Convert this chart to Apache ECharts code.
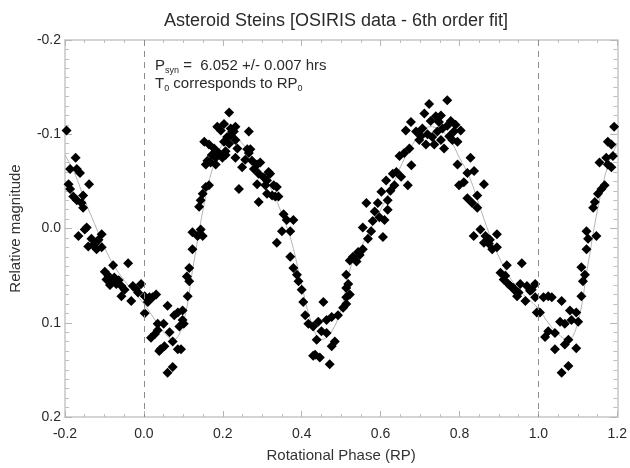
<!DOCTYPE html>
<html>
<head>
<meta charset="utf-8">
<script src="https://cdn.jsdelivr.net/npm/echarts@6/dist/echarts.min.js"></script>
<style>
  html, body { margin: 0; padding: 0; background: #fff; }
  #chart { width: 630px; height: 468px; }
</style>
</head>
<body>
<div id="chart"></div>
<script>
const obsWingLeft = [
  [-0.196, -0.104], [-0.173, -0.075], [-0.187, -0.063], [-0.170, -0.063], [-0.162, -0.059],
  [-0.139, -0.047], [-0.191, -0.047], [-0.187, -0.042], [-0.154, -0.035], [-0.179, -0.034],
  [-0.170, -0.030], [-0.158, -0.027], [-0.154, -0.022], [-0.150, 0.001], [-0.145, -0.001],
  [-0.166, 0.008], [-0.133, 0.011], [-0.141, 0.019], [-0.124, 0.016], [-0.107, 0.006],
  [-0.107, 0.020], [-0.120, 0.022], [-0.128, 0.018], [-0.115, 0.012],
  [-0.078, 0.039], [-0.040, 0.037], [-0.099, 0.046], [-0.095, 0.054], [-0.082, 0.056],
  [-0.070, 0.059], [-0.057, 0.061], [-0.049, 0.065], [-0.057, 0.072], [-0.090, 0.050],
  [-0.075, 0.052], [-0.086, 0.060], [-0.064, 0.055],
  [-0.032, 0.077], [-0.028, 0.061], [-0.007, 0.059], [-0.015, 0.068], [-0.020, 0.064],
  [0.002, 0.072], [0.014, 0.073], [0.031, 0.070], [0.010, 0.078], [0.022, 0.073], [0.002, 0.090]
];
const obsFirstDip = [
  [0.018, 0.116], [0.035, 0.108], [0.039, 0.130], [0.035, 0.101], [0.050, 0.101],
  [0.042, 0.128], [0.052, 0.125], [0.060, 0.082], [0.073, 0.120], [0.086, 0.128],
  [0.094, 0.128], [0.073, 0.147], [0.060, 0.153], [0.077, 0.092], [0.086, 0.089],
  [0.098, 0.087], [0.098, 0.097], [0.101, 0.101], [0.090, 0.104], [0.028, 0.112], [0.065, 0.110],
  [0.111, 0.072], [0.115, 0.056], [0.109, 0.051], [0.115, 0.042], [0.123, 0.022],
  [0.123, 0.004], [0.136, 0.008], [0.149, 0.008], [0.144, 0.001], [0.140, -0.023],
  [0.144, -0.030], [0.149, -0.037], [0.157, -0.044], [0.165, -0.046], [0.157, -0.068],
  [0.169, -0.070], [0.182, -0.068], [0.153, -0.092], [0.165, -0.089], [0.178, -0.085],
  [0.190, -0.080], [0.182, -0.075], [0.199, -0.075], [0.186, -0.108], [0.195, -0.104],
  [0.172, -0.078], [0.161, -0.072]
];
const obsFirstPeak = [
  [0.203, -0.111], [0.224, -0.103], [0.232, -0.108], [0.203, -0.092], [0.207, -0.078],
  [0.216, -0.123], [0.220, -0.106], [0.220, -0.099], [0.228, -0.103], [0.211, -0.097],
  [0.232, -0.094], [0.216, -0.090], [0.207, -0.082], [0.237, -0.085], [0.232, -0.075],
  [0.266, -0.103], [0.241, -0.042], [0.249, -0.065], [0.262, -0.084], [0.266, -0.080],
  [0.274, -0.072], [0.257, -0.073], [0.279, -0.063], [0.287, -0.068], [0.295, -0.070],
  [0.291, -0.058], [0.304, -0.054], [0.320, -0.058], [0.312, -0.051], [0.308, -0.046],
  [0.287, -0.047], [0.291, -0.028], [0.312, -0.037], [0.325, -0.035], [0.329, -0.046],
  [0.337, -0.044], [0.333, -0.034], [0.341, -0.034], [0.316, -0.060], [0.270, -0.084]
];
const obsSecondDip = [
  [0.354, -0.015], [0.362, -0.009], [0.379, -0.009], [0.350, 0.003], [0.371, 0.003],
  [0.337, 0.015], [0.371, 0.030], [0.379, 0.042], [0.388, 0.049], [0.392, 0.056],
  [0.400, 0.065], [0.404, 0.078], [0.409, 0.092], [0.417, 0.101], [0.429, 0.104],
  [0.434, 0.134], [0.455, 0.078], [0.442, 0.099], [0.463, 0.097], [0.476, 0.094],
  [0.492, 0.092], [0.505, 0.084], [0.513, 0.073], [0.513, 0.063], [0.513, 0.049],
  [0.522, 0.034], [0.438, 0.118], [0.450, 0.109], [0.463, 0.111], [0.429, 0.135],
  [0.446, 0.137], [0.471, 0.144], [0.484, 0.120], [0.476, 0.125],
  [0.518, 0.059], [0.522, 0.070], [0.513, 0.080], [0.530, 0.030], [0.543, 0.025],
  [0.555, 0.022], [0.568, 0.011], [0.576, 0.003], [0.555, -0.001], [0.580, -0.008],
  [0.547, 0.028], [0.539, 0.035], [0.606, 0.009], [0.610, -0.009], [0.593, -0.027],
  [0.564, -0.027], [0.602, -0.039], [0.597, -0.012], [0.585, -0.018]
];
const obsSecondPeak = [
  [0.618, -0.020], [0.618, -0.030], [0.614, -0.051], [0.631, -0.058], [0.635, -0.046],
  [0.669, -0.046], [0.648, -0.077], [0.660, -0.080], [0.664, -0.104], [0.677, -0.113],
  [0.690, -0.103], [0.698, -0.094], [0.706, -0.106], [0.715, -0.089], [0.711, -0.122],
  [0.723, -0.132], [0.727, -0.114], [0.740, -0.119], [0.744, -0.103], [0.753, -0.094],
  [0.736, -0.089], [0.769, -0.136], [0.753, -0.120], [0.757, -0.106], [0.769, -0.109],
  [0.786, -0.103], [0.803, -0.104], [0.782, -0.094], [0.795, -0.092], [0.761, -0.085],
  [0.673, -0.085], [0.702, -0.098], [0.719, -0.100], [0.731, -0.097], [0.748, -0.113],
  [0.778, -0.114], [0.790, -0.110], [0.774, -0.098], [0.640, -0.060], [0.652, -0.055],
  [0.625, -0.040], [0.678, -0.067],
  [0.795, -0.068], [0.828, -0.075], [0.820, -0.059], [0.837, -0.061], [0.862, -0.047],
  [0.799, -0.046], [0.811, -0.049], [0.845, -0.035], [0.820, -0.032], [0.832, -0.027],
  [0.845, -0.022]
];
const obsWingRight = [
  [0.853, 0.001], [0.836, 0.008], [0.862, 0.015], [0.874, 0.016], [0.895, 0.006],
  [0.883, 0.022], [0.895, 0.020], [0.877, 0.012], [0.866, 0.008], [0.920, 0.039],
  [0.958, 0.037], [0.904, 0.047], [0.912, 0.054], [0.924, 0.059], [0.937, 0.063],
  [0.950, 0.068], [0.971, 0.061], [0.983, 0.065], [0.967, 0.077], [0.946, 0.072],
  [0.929, 0.061], [0.916, 0.050], [0.941, 0.066], [0.954, 0.059],
  [0.992, 0.073], [0.996, 0.089], [0.992, 0.059], [0.979, 0.066],
  [1.013, 0.073], [1.025, 0.072], [1.034, 0.073], [1.059, 0.077], [1.004, 0.089],
  [1.080, 0.087], [1.096, 0.089], [1.101, 0.099], [1.084, 0.097], [1.055, 0.099],
  [1.067, 0.101], [1.025, 0.109], [1.017, 0.115], [1.042, 0.111], [1.076, 0.118],
  [1.096, 0.127], [1.042, 0.128], [1.067, 0.123], [1.076, 0.146], [1.059, 0.153],
  [1.109, 0.072], [1.113, 0.056], [1.118, 0.049], [1.109, 0.041], [1.122, 0.022],
  [1.126, 0.011], [1.122, 0.003], [1.147, 0.008], [1.139, -0.022], [1.143, -0.028],
  [1.151, -0.037], [1.160, -0.042], [1.168, -0.046], [1.155, -0.070], [1.176, -0.068],
  [1.185, -0.065], [1.172, -0.075], [1.189, -0.077], [1.176, -0.092], [1.185, -0.089],
  [1.192, -0.108]
];

// 6th order fit curve
const fitPhase = [
  -0.2, -0.175, -0.15, -0.125, -0.1, -0.075, -0.05, -0.025, 0, 0.025, 0.05, 0.075,
  0.1, 0.125, 0.15, 0.175, 0.2, 0.225, 0.25, 0.275, 0.3, 0.325, 0.35, 0.375,
  0.4, 0.425, 0.45, 0.475, 0.5, 0.525, 0.55, 0.575, 0.6, 0.625, 0.65, 0.675,
  0.7, 0.725, 0.75, 0.775, 0.8, 0.825, 0.85, 0.875, 0.9, 0.925, 0.95, 0.975,
  1.0, 1.025, 1.05, 1.075, 1.1, 1.125, 1.15, 1.175, 1.2
];
const fitMag = [
  -0.078, -0.058, -0.030, -0.005, 0.020, 0.040, 0.055, 0.068, 0.080, 0.095, 0.110, 0.118,
  0.100, 0.040, -0.020, -0.065, -0.090, -0.098, -0.090, -0.075, -0.058, -0.040, -0.015, 0.015,
  0.060, 0.100, 0.118, 0.110, 0.085, 0.040, 0.020, 0.000, -0.020, -0.040, -0.065, -0.085,
  -0.100, -0.108, -0.105, -0.095, -0.075, -0.055, -0.025, 0.005, 0.030, 0.050, 0.065, 0.075,
  0.085, 0.100, 0.112, 0.118, 0.100, 0.040, -0.020, -0.065, -0.090
];

const vLines = [0, 1];

const FONT = '"Liberation Sans Narrow", "Liberation Sans", Arial, sans-serif';
const fmt = (v) => (Math.abs(v) < 1e-9 ? 0 : v).toFixed(1);

const observations = [].concat(obsWingLeft, obsFirstDip, obsFirstPeak,
  obsSecondDip, obsSecondPeak, obsWingRight);

const frameLine = { onZero: false, lineStyle: { color: '#c6c6c6', width: 1.5 } };

function xAxisDef(pos, labels) {
  return {
    type: 'value', position: pos, min: -0.2, max: 1.2, interval: 0.2,
    axisLine: frameLine,
    axisTick: { inside: true, length: 6, lineStyle: { color: '#b5b5b5' } },
    minorTick: { show: true, splitNumber: 4, length: 3, lineStyle: { color: '#c0c0c0' } },
    splitLine: { show: false },
    axisLabel: {
      show: labels, formatter: fmt, color: '#2a2a2a', fontSize: 14,
      fontFamily: FONT, margin: 10
    },
    name: labels ? 'Rotational Phase (RP)' : '',
    nameLocation: 'middle', nameGap: 31,
    nameTextStyle: { color: '#333', fontSize: 15, fontFamily: FONT }
  };
}

function yAxisDef(pos, labels) {
  return {
    type: 'value', position: pos, min: -0.2, max: 0.2, interval: 0.1, inverse: true,
    axisLine: frameLine,
    axisTick: { inside: true, length: 7, lineStyle: { color: '#b5b5b5' } },
    minorTick: { show: true, splitNumber: 10, length: 4, lineStyle: { color: '#c0c0c0' } },
    splitLine: { show: false },
    axisLabel: {
      show: labels, formatter: fmt, color: '#2a2a2a', fontSize: 14,
      fontFamily: FONT, margin: 4
    },
    name: labels ? 'Relative magnitude' : '',
    nameLocation: 'middle', nameGap: 42,
    nameTextStyle: { color: '#333', fontSize: 15, fontFamily: FONT }
  };
}

const chart = echarts.init(document.getElementById('chart'), null, { renderer: 'canvas' });
chart.setOption({
  animation: false,
  backgroundColor: '#fff',
  title: [
    {
      text: 'Asteroid Steins [OSIRIS data - 6th order fit]',
      left: 331, top: 7, textAlign: 'center',
      textStyle: { color: '#2a2a2a', fontSize: 18, fontWeight: 'normal', fontFamily: FONT }
    },
    {
      text: '{a|P}{s|syn}{a| =  6.052 +/- 0.007 hrs}\n{a|T}{s|0}{a| corresponds to RP}{s|0}',
      left: 150, top: 52,
      textStyle: {
        rich: {
          a: { color: '#2a2a2a', fontSize: 15, fontWeight: 'normal', fontFamily: FONT, lineHeight: 18 },
          s: { color: '#2a2a2a', fontSize: 9, fontWeight: 'normal', fontFamily: FONT, verticalAlign: 'bottom', lineHeight: 18 }
        }
      }
    }
  ],
  grid: { left: 63, right: 10, top: 40, bottom: 42 },
  xAxis: [xAxisDef('bottom', true), xAxisDef('top', false)],
  yAxis: [yAxisDef('left', true), yAxisDef('right', false)],
  series: [
    {
      name: 'fit',
      type: 'line',
      data: fitPhase.map((p, i) => [p, fitMag[i]]),
      showSymbol: false,
      smooth: 0.4,
      lineStyle: { color: '#b4b4b4', width: 1 },
      z: 1,
      silent: true
    },
    {
      name: 'OSIRIS',
      type: 'scatter',
      data: observations,
      symbol: 'diamond',
      symbolSize: 10,
      itemStyle: { color: '#000', opacity: 1 },
      z: 3,
      markLine: {
        silent: true,
        symbol: ['none', 'none'],
        label: { show: false },
        lineStyle: { color: '#8c8c8c', type: [6, 5], width: 1 },
        data: vLines.map((v) => ({ xAxis: v }))
      }
    }
  ]
});
</script>
</body>
</html>
